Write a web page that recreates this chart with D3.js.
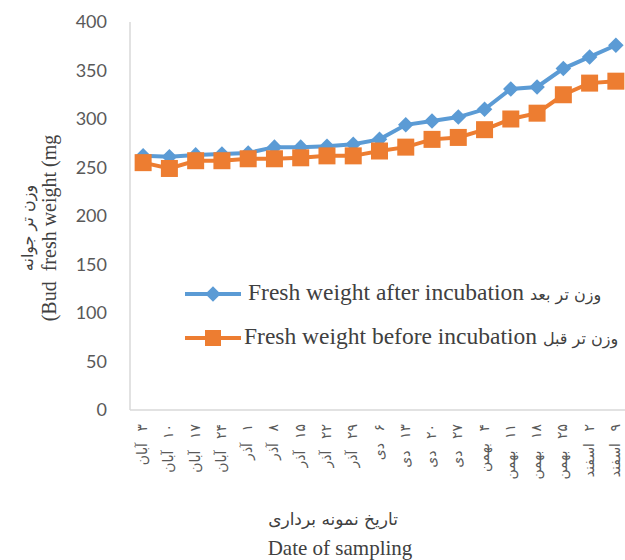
<!DOCTYPE html>
<html lang="fa">
<head>
<meta charset="UTF-8">
<title>Bud fresh weight</title>
<style>
  body { margin: 0; background: #fff; }
  svg { display: block; }
  .tick-y { font-family: Lato, "Open Sans", sans-serif; font-size: 18px; fill: #595959; }
  .tick-x { font-family: "DejaVu Sans", sans-serif; font-size: 14px; fill: #595959; word-spacing: 7px; }
  .serif { font-family: "Liberation Serif", "Times New Roman", serif; fill: #404040; }
  .fa { font-family: "DejaVu Sans", sans-serif; fill: #404040; }
</style>
</head>
<body>
<svg width="625" height="560"></svg>
<script src="https://d3js.org/d3.v7.min.js"></script>
<script>
const dates = ["۳ آبان", "۱۰ آبان", "۱۷ آبان", "۲۴ آبان", "۱ آذر", "۸ آذر", "۱۵ آذر", "۲۲ آذر", "۲۹ آذر",
  "۶ دی", "۱۳ دی", "۲۰ دی", "۲۷ دی", "۴ بهمن", "۱۱ بهمن", "۱۸ بهمن", "۲۵ بهمن", "۲ اسفند", "۹ اسفند"];

const after = [262, 261, 263, 264, 265, 271, 271, 272, 274, 279, 294, 298, 302, 310, 331, 333, 352, 364, 376];
const before = [255, 249, 257, 257, 259, 259, 260, 262, 262, 267, 271, 279, 281, 289, 300, 306, 325, 337, 339];

const yTicks = [0, 50, 100, 150, 200, 250, 300, 350, 400];

const svg = d3.select("svg");

const x = d3.scalePoint().domain(dates).range([130, 629]).padding(0.5);
const y = d3.scaleLinear().domain([0, 400]).range([410, 22]);

// axis lines
svg.append("line").attr("x1", 130).attr("x2", 130).attr("y1", y(400)).attr("y2", y(0))
  .attr("stroke", "#d9d9d9").attr("stroke-width", 1.5);
svg.append("line").attr("x1", 130).attr("x2", 629).attr("y1", y(0)).attr("y2", y(0))
  .attr("stroke", "#d9d9d9").attr("stroke-width", 1.5);

svg.selectAll(".tick-y").data(yTicks).join("text")
  .attr("class", "tick-y")
  .attr("x", 107).attr("y", d => y(d)).attr("dy", "0.35em")
  .attr("text-anchor", "end")
  .text(d => d);

svg.selectAll(".tick-x").data(dates).join("text")
  .attr("class", "tick-x")
  .attr("transform", d => `translate(${x(d) + 4},424) rotate(-90)`)
  .attr("direction", "rtl")
  .attr("text-anchor", "start")
  .text(d => d);

const line = d3.line().x((d, i) => x(dates[i])).y(d => y(d));

// before (orange squares)
svg.append("path").datum(before).attr("d", line)
  .attr("fill", "none").attr("stroke", "#ED7D31").attr("stroke-width", 4);
// after (blue diamonds)
svg.append("path").datum(after).attr("d", line)
  .attr("fill", "none").attr("stroke", "#5B9BD5").attr("stroke-width", 4);

svg.selectAll(".dia").data(after).join("rect")
  .attr("class", "dia")
  .attr("x", -5.5).attr("y", -5.5).attr("width", 11).attr("height", 11)
  .attr("fill", "#5B9BD5")
  .attr("transform", (d, i) => `translate(${x(dates[i])},${y(d)}) rotate(45)`);

svg.selectAll(".sq").data(before).join("rect")
  .attr("class", "sq")
  .attr("x", (d, i) => x(dates[i]) - 8.5).attr("y", d => y(d) - 8.5)
  .attr("width", 17).attr("height", 17)
  .attr("fill", "#ED7D31");

// legend
const leg = [
  { en: "Fresh weight after incubation", fa: "وزن تر بعد", color: "#5B9BD5", y: 294, tx: 248, shape: "d" },
  { en: "Fresh weight before incubation", fa: "وزن تر قبل", color: "#ED7D31", y: 338, tx: 244, shape: "s" }
];
leg.forEach(l => {
  const g = svg.append("g");
  g.append("line").attr("x1", 185).attr("x2", 241).attr("y1", l.y).attr("y2", l.y)
    .attr("stroke", l.color).attr("stroke-width", 4);
  if (l.shape === "d") {
    g.append("rect").attr("x", -5.5).attr("y", -5.5).attr("width", 11).attr("height", 11)
      .attr("fill", l.color).attr("transform", `translate(213,${l.y}) rotate(45)`);
  } else {
    g.append("rect").attr("x", 205).attr("y", l.y - 8).attr("width", 16).attr("height", 16)
      .attr("fill", l.color);
  }
  const t = g.append("text").attr("x", l.tx).attr("y", l.y).attr("dy", "0.35em");
  t.append("tspan").attr("class", "serif").attr("font-size", 23.5).text(l.en + " ");
  t.append("tspan").attr("class", "fa").attr("font-size", 16).text(l.fa);
});

// y axis title
svg.append("text").attr("class", "fa").attr("font-size", 16)
  .attr("transform", "translate(27,228) rotate(-90)")
  .attr("text-anchor", "middle").attr("dy", "0.35em")
  .text("وزن تر جوانه");
svg.append("text").attr("class", "serif").attr("font-size", 20)
  .attr("transform", "translate(49,228) rotate(-90)")
  .attr("text-anchor", "middle").attr("dy", "0.35em")
  .attr("direction", "ltr").attr("unicode-bidi", "bidi-override")
  .attr("style", "white-space: pre")
  .text("(Bud  fresh weight (mg");

// x axis title
svg.append("text").attr("class", "fa").attr("font-size", 17)
  .attr("x", 333).attr("y", 519).attr("text-anchor", "middle").attr("dy", "0.35em")
  .text("تاریخ نمونه برداری");
svg.append("text").attr("class", "serif").attr("font-size", 21)
  .attr("x", 340).attr("y", 548).attr("text-anchor", "middle").attr("dy", "0.35em")
  .text("Date of sampling");
</script>
</body>
</html>
